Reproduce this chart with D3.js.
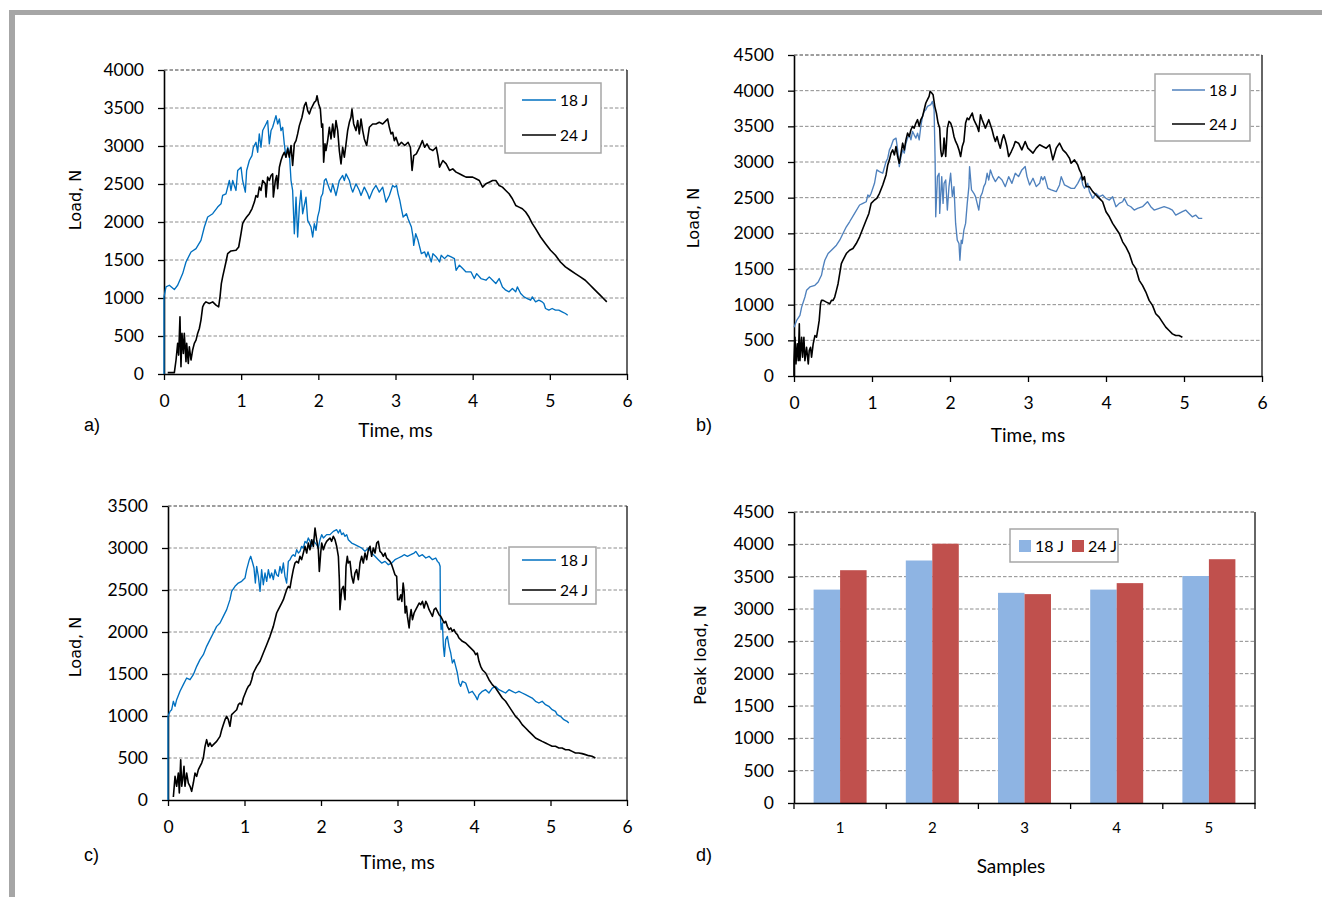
<!DOCTYPE html>
<html>
<head>
<meta charset="utf-8">
<script src="https://cdn.jsdelivr.net/npm/d3@7"></script>
<style>
  html, body { margin: 0; padding: 0; background: #fff; }
  svg { display: block; }
</style>
</head>
<body>
<svg id="fig" width="1322" height="897"></svg>
<script>
// ---- Load–time records, [time (ms), load (N)] ----
const a18 = [[0,0],[0,1015],[0.026,1146],[0.069,1168],[0.134,1111],[0.177,1168],[0.242,1321],[0.285,1474],[0.35,1606],[0.415,1649],[0.479,1759],[0.523,1934],[0.566,2065],[0.631,2109],[0.695,2196],[0.739,2240],[0.76,2349],[0.803,2371],[0.847,2546],[0.868,2415],[0.89,2546],[0.933,2415],[0.955,2678],[0.998,2721],[1.019,2546],[1.054,2393],[1.071,2678],[1.106,2809],[1.14,2874],[1.158,2984],[1.192,3049],[1.214,2918],[1.235,3159],[1.257,2984],[1.279,3203],[1.322,3290],[1.343,3334],[1.365,3028],[1.387,3203],[1.408,3246],[1.451,3399],[1.473,3290],[1.495,3356],[1.516,3203],[1.538,3246],[1.559,3028],[1.581,2853],[1.603,2984],[1.624,2918],[1.646,2546],[1.667,2415],[1.689,1846],[1.711,2328],[1.732,1803],[1.754,2196],[1.775,2415],[1.797,2109],[1.84,2328],[1.862,2021],[1.905,1934],[1.927,1803],[1.948,1978],[1.97,1890],[1.991,2065],[2.013,2153],[2.035,2328],[2.056,2371],[2.078,2546],[2.099,2568],[2.121,2503],[2.143,2437],[2.164,2393],[2.186,2503],[2.229,2349],[2.272,2546],[2.315,2612],[2.337,2546],[2.359,2634],[2.38,2590],[2.402,2546],[2.423,2459],[2.445,2393],[2.488,2503],[2.531,2415],[2.553,2349],[2.596,2459],[2.639,2371],[2.661,2306],[2.704,2415],[2.747,2481],[2.79,2393],[2.834,2459],[2.877,2262],[2.92,2349],[2.963,2481],[2.991,2459],[3.013,2481],[3.034,2371],[3.056,2284],[3.077,2174],[3.099,2065],[3.142,2109],[3.163,2043],[3.206,1934],[3.227,1803],[3.236,1693],[3.262,1846],[3.292,1759],[3.335,1584],[3.378,1606],[3.399,1540],[3.421,1606],[3.464,1474],[3.485,1584],[3.528,1540],[3.571,1474],[3.592,1562],[3.635,1518],[3.678,1562],[3.721,1540],[3.764,1518],[3.785,1365],[3.828,1431],[3.871,1387],[3.914,1343],[3.979,1343],[4.021,1256],[4.052,1321],[4.107,1256],[4.172,1234],[4.215,1278],[4.258,1234],[4.3,1190],[4.343,1256],[4.386,1146],[4.429,1103],[4.472,1081],[4.515,1124],[4.558,1081],[4.579,1146],[4.622,1059],[4.665,1015],[4.708,993],[4.751,971],[4.773,1015],[4.815,949],[4.858,971],[4.901,949],[4.923,928],[4.944,862],[4.987,840],[5.03,862],[5.073,840],[5.116,840],[5.159,818],[5.202,796],[5.232,774]];

const a24 = [[0.048,18],[0.134,18],[0.156,184],[0.177,403],[0.19,249],[0.207,753],[0.22,96],[0.233,534],[0.251,271],[0.263,534],[0.285,162],[0.294,403],[0.315,140],[0.328,359],[0.35,184],[0.371,315],[0.393,403],[0.415,446],[0.436,534],[0.458,599],[0.479,709],[0.501,884],[0.523,928],[0.544,949],[0.587,928],[0.631,949],[0.674,906],[0.708,884],[0.726,1015],[0.743,1190],[0.76,1278],[0.803,1474],[0.825,1584],[0.868,1619],[0.933,1628],[0.968,1671],[0.998,1846],[1.019,1978],[1.041,2021],[1.071,2065],[1.106,2109],[1.14,2174],[1.171,2262],[1.192,2349],[1.214,2328],[1.235,2459],[1.257,2415],[1.279,2546],[1.313,2503],[1.322,2328],[1.343,2590],[1.365,2546],[1.387,2612],[1.408,2634],[1.417,2328],[1.443,2546],[1.46,2612],[1.473,2437],[1.495,2721],[1.516,2809],[1.538,2874],[1.559,2918],[1.581,2853],[1.603,2962],[1.624,2853],[1.646,3006],[1.667,2743],[1.689,3028],[1.711,3071],[1.732,3159],[1.754,3268],[1.788,3378],[1.819,3531],[1.84,3574],[1.862,3465],[1.883,3421],[1.905,3487],[1.927,3531],[1.948,3574],[1.97,3596],[1.983,3662],[2.004,3553],[2.026,3487],[2.043,3246],[2.056,3290],[2.069,2787],[2.086,3028],[2.099,2940],[2.121,3071],[2.143,3246],[2.164,3093],[2.186,3290],[2.207,3115],[2.229,3334],[2.251,3203],[2.272,2940],[2.294,2765],[2.315,2984],[2.337,2853],[2.359,3028],[2.38,3203],[2.402,3312],[2.423,3378],[2.436,3487],[2.458,3290],[2.488,3203],[2.51,3334],[2.531,3159],[2.553,3356],[2.575,3203],[2.596,3093],[2.626,3006],[2.661,3246],[2.704,3290],[2.747,3290],[2.79,3312],[2.834,3290],[2.877,3334],[2.898,3356],[2.92,3246],[2.942,3159],[2.963,3181],[2.985,3071],[3.006,3115],[3.041,3006],[3.077,3049],[3.12,3006],[3.163,3049],[3.193,2984],[3.215,2678],[3.236,2874],[3.27,2896],[3.313,2984],[3.348,3071],[3.378,2984],[3.408,3028],[3.442,2962],[3.485,2940],[3.528,2984],[3.549,2874],[3.571,2721],[3.614,2809],[3.657,2765],[3.7,2678],[3.742,2699],[3.785,2656],[3.828,2634],[3.871,2612],[3.914,2590],[3.957,2590],[4.0,2590],[4.043,2568],[4.086,2546],[4.129,2459],[4.172,2503],[4.215,2524],[4.258,2546],[4.3,2546],[4.343,2481],[4.386,2459],[4.429,2415],[4.472,2371],[4.515,2306],[4.558,2218],[4.601,2196],[4.644,2174],[4.687,2131],[4.73,2065],[4.773,1978],[4.815,1912],[4.88,1803],[4.944,1715],[5.009,1628],[5.073,1562],[5.137,1474],[5.202,1409],[5.266,1365],[5.33,1321],[5.395,1278],[5.459,1234],[5.524,1168],[5.567,1124],[5.609,1081],[5.652,1037],[5.695,993],[5.738,949]];

const b18 = [[0,685],[0.034,779],[0.076,849],[0.098,966],[0.14,1107],[0.161,1201],[0.204,1248],[0.268,1271],[0.31,1318],[0.352,1412],[0.374,1529],[0.395,1623],[0.437,1717],[0.48,1763],[0.544,1834],[0.586,1904],[0.628,1998],[0.671,2092],[0.713,2162],[0.777,2279],[0.841,2397],[0.883,2420],[0.926,2443],[0.947,2537],[0.968,2514],[0.989,2561],[1.032,2701],[1.062,2889],[1.096,2866],[1.138,2842],[1.18,3006],[1.202,3053],[1.223,3170],[1.244,3217],[1.274,3311],[1.308,3335],[1.329,3170],[1.35,2936],[1.372,3077],[1.393,3170],[1.414,3124],[1.435,3264],[1.456,3335],[1.478,3381],[1.499,3311],[1.52,3428],[1.541,3381],[1.563,3335],[1.584,3405],[1.605,3311],[1.626,3499],[1.648,3639],[1.669,3710],[1.69,3733],[1.711,3780],[1.754,3804],[1.775,3850],[1.796,3733],[1.809,3030],[1.817,2232],[1.839,2795],[1.86,2842],[1.868,2279],[1.894,2795],[1.911,2420],[1.924,2701],[1.945,2748],[1.966,2326],[1.987,2655],[2.008,2842],[2.03,2514],[2.051,2655],[2.072,2139],[2.093,1904],[2.115,1857],[2.127,1623],[2.144,1904],[2.157,1857],[2.178,2045],[2.2,2139],[2.221,2420],[2.242,2655],[2.251,2936],[2.276,2608],[2.306,2561],[2.327,2514],[2.348,2420],[2.369,2326],[2.391,2514],[2.412,2561],[2.433,2655],[2.454,2701],[2.476,2842],[2.497,2748],[2.518,2889],[2.548,2795],[2.582,2725],[2.624,2795],[2.667,2748],[2.709,2655],[2.752,2795],[2.794,2701],[2.837,2842],[2.879,2795],[2.921,2889],[2.964,2936],[2.987,2795],[3.021,2678],[3.064,2772],[3.106,2655],[3.149,2701],[3.17,2795],[3.191,2748],[3.213,2795],[3.255,2631],[3.298,2608],[3.362,2584],[3.404,2678],[3.426,2795],[3.468,2678],[3.511,2655],[3.553,2631],[3.596,2631],[3.638,2701],[3.681,2795],[3.702,2678],[3.723,2631],[3.766,2701],[3.787,2584],[3.83,2490],[3.872,2561],[3.915,2514],[3.957,2537],[4.0,2490],[4.043,2467],[4.085,2514],[4.128,2373],[4.17,2420],[4.213,2443],[4.234,2490],[4.277,2397],[4.319,2373],[4.362,2326],[4.404,2350],[4.468,2373],[4.532,2443],[4.574,2373],[4.617,2326],[4.681,2350],[4.745,2373],[4.809,2350],[4.851,2326],[4.894,2256],[4.936,2279],[4.979,2303],[5.021,2326],[5.064,2279],[5.106,2232],[5.149,2256],[5.191,2209],[5.234,2209]];

const b24 = [[0,0],[0,216],[0.013,544],[0.025,169],[0.042,450],[0.055,216],[0.068,732],[0.076,216],[0.098,544],[0.11,263],[0.127,544],[0.14,216],[0.161,403],[0.183,169],[0.195,356],[0.212,403],[0.225,263],[0.246,450],[0.268,567],[0.289,544],[0.31,685],[0.323,779],[0.34,1013],[0.352,1060],[0.374,1060],[0.416,1036],[0.459,1013],[0.48,1060],[0.501,1060],[0.522,1107],[0.544,1201],[0.565,1294],[0.586,1435],[0.607,1576],[0.628,1623],[0.671,1717],[0.713,1763],[0.756,1787],[0.798,1857],[0.841,1951],[0.883,2068],[0.926,2186],[0.96,2279],[0.989,2420],[1.032,2467],[1.062,2490],[1.096,2561],[1.138,2678],[1.18,2819],[1.202,2959],[1.223,3030],[1.244,3124],[1.265,3170],[1.287,3100],[1.308,3217],[1.329,3077],[1.35,2983],[1.372,3124],[1.393,3264],[1.414,3170],[1.435,3311],[1.456,3405],[1.478,3358],[1.499,3452],[1.52,3499],[1.541,3475],[1.563,3546],[1.584,3593],[1.605,3499],[1.626,3593],[1.648,3639],[1.669,3733],[1.69,3827],[1.711,3874],[1.732,3921],[1.745,3991],[1.766,3968],[1.783,3944],[1.805,3780],[1.826,3686],[1.847,3546],[1.868,3475],[1.881,3170],[1.894,3077],[1.911,3124],[1.924,3335],[1.945,3077],[1.966,3475],[1.987,3569],[2.008,3546],[2.03,3475],[2.051,3358],[2.072,3288],[2.093,3241],[2.115,3170],[2.136,3077],[2.157,3217],[2.178,3288],[2.2,3546],[2.221,3616],[2.242,3593],[2.263,3639],[2.285,3686],[2.306,3593],[2.327,3546],[2.348,3499],[2.369,3428],[2.391,3663],[2.412,3593],[2.454,3475],[2.497,3593],[2.518,3522],[2.539,3452],[2.561,3358],[2.582,3288],[2.603,3358],[2.624,3264],[2.645,3194],[2.667,3311],[2.688,3381],[2.709,3311],[2.73,3217],[2.752,3077],[2.786,3147],[2.815,3217],[2.837,3288],[2.879,3264],[2.921,3170],[2.964,3288],[2.998,3194],[3.021,3170],[3.064,3124],[3.106,3194],[3.149,3241],[3.191,3217],[3.234,3194],[3.277,3241],[3.319,3030],[3.362,3194],[3.404,3264],[3.447,3170],[3.489,3124],[3.532,3053],[3.553,2983],[3.596,3030],[3.638,2959],[3.66,2889],[3.681,2842],[3.702,2748],[3.723,2795],[3.745,2655],[3.787,2655],[3.83,2584],[3.872,2537],[3.915,2490],[3.957,2443],[4.0,2303],[4.043,2232],[4.085,2139],[4.128,2068],[4.17,1998],[4.213,1881],[4.255,1810],[4.298,1717],[4.34,1576],[4.383,1505],[4.426,1341],[4.468,1271],[4.511,1177],[4.553,1060],[4.596,990],[4.638,872],[4.681,826],[4.723,755],[4.766,685],[4.809,638],[4.851,591],[4.894,567],[4.936,567],[4.979,544]];

const c18 = [[0,0],[0,996],[0.026,1055],[0.048,1075],[0.07,1175],[0.092,1115],[0.113,1194],[0.157,1294],[0.2,1373],[0.244,1452],[0.288,1432],[0.331,1492],[0.375,1591],[0.418,1671],[0.462,1730],[0.505,1829],[0.549,1909],[0.593,1988],[0.636,2067],[0.68,2107],[0.723,2186],[0.767,2266],[0.81,2385],[0.832,2484],[0.876,2544],[0.919,2583],[0.963,2603],[1.007,2643],[1.028,2742],[1.063,2861],[1.081,2901],[1.107,2821],[1.124,2762],[1.142,2583],[1.159,2782],[1.181,2663],[1.203,2484],[1.224,2742],[1.246,2563],[1.268,2702],[1.29,2603],[1.312,2742],[1.333,2643],[1.355,2702],[1.377,2623],[1.399,2742],[1.42,2682],[1.442,2663],[1.464,2782],[1.486,2702],[1.508,2821],[1.529,2663],[1.551,2583],[1.573,2841],[1.595,2861],[1.617,2901],[1.638,2920],[1.66,2901],[1.682,2980],[1.704,2940],[1.725,2960],[1.747,3020],[1.769,3000],[1.791,3079],[1.813,3059],[1.834,3119],[1.856,3079],[1.878,3020],[1.9,3099],[1.922,3059],[1.943,3040],[1.965,3000],[1.987,3099],[2.009,3159],[2.031,3119],[2.074,3159],[2.118,3159],[2.161,3198],[2.205,3218],[2.227,3178],[2.248,3218],[2.27,3159],[2.292,3178],[2.314,3139],[2.336,3159],[2.357,3099],[2.401,3059],[2.444,3040],[2.488,3020],[2.532,3000],[2.575,2960],[2.619,3000],[2.662,2940],[2.706,2901],[2.749,2861],[2.793,2821],[2.837,2841],[2.88,2801],[2.924,2821],[2.967,2861],[3.011,2881],[3.054,2901],[3.087,2920],[3.13,2901],[3.174,2920],[3.217,2940],[3.239,2960],[3.283,2901],[3.326,2920],[3.37,2881],[3.413,2901],[3.457,2861],[3.5,2881],[3.522,2841],[3.543,2821],[3.557,2782],[3.561,2186],[3.57,2028],[3.587,2107],[3.6,1829],[3.613,1710],[3.63,1909],[3.652,1948],[3.674,1829],[3.696,1750],[3.717,1631],[3.739,1671],[3.761,1591],[3.783,1512],[3.804,1393],[3.826,1353],[3.848,1413],[3.891,1393],[3.935,1274],[3.978,1294],[4.022,1234],[4.043,1194],[4.065,1254],[4.109,1294],[4.152,1313],[4.196,1274],[4.239,1333],[4.283,1353],[4.326,1313],[4.37,1294],[4.413,1274],[4.457,1313],[4.5,1294],[4.543,1274],[4.587,1294],[4.63,1274],[4.674,1254],[4.717,1234],[4.761,1214],[4.804,1175],[4.848,1155],[4.891,1175],[4.935,1135],[4.978,1115],[5.022,1075],[5.065,1055],[5.087,1016],[5.13,996],[5.174,956],[5.217,937],[5.239,917]];

const c24 = [[0.07,36],[0.092,282],[0.113,163],[0.135,321],[0.148,83],[0.166,480],[0.179,163],[0.192,242],[0.209,401],[0.222,163],[0.244,321],[0.266,202],[0.288,163],[0.309,103],[0.331,202],[0.353,321],[0.375,282],[0.397,361],[0.418,401],[0.44,440],[0.462,500],[0.484,639],[0.505,718],[0.527,639],[0.549,679],[0.571,639],[0.593,659],[0.636,698],[0.68,758],[0.702,837],[0.723,897],[0.745,956],[0.767,996],[0.789,956],[0.81,877],[0.832,1016],[0.854,1036],[0.898,1075],[0.919,1135],[0.941,1155],[0.963,1135],[0.985,1214],[1.028,1313],[1.05,1353],[1.072,1373],[1.094,1432],[1.115,1512],[1.159,1591],[1.203,1651],[1.246,1750],[1.29,1849],[1.333,1948],[1.377,2067],[1.42,2226],[1.442,2266],[1.464,2305],[1.486,2345],[1.508,2385],[1.529,2444],[1.551,2504],[1.573,2543],[1.595,2524],[1.617,2643],[1.638,2742],[1.66,2821],[1.682,2841],[1.704,2821],[1.725,2901],[1.747,2861],[1.769,2940],[1.791,3020],[1.813,2940],[1.834,3059],[1.856,2980],[1.878,3099],[1.9,3020],[1.922,3238],[1.943,3099],[1.965,2980],[1.978,2722],[1.996,2940],[2.009,3059],[2.031,2980],[2.052,3040],[2.074,3079],[2.096,3099],[2.118,3119],[2.139,3079],[2.161,3139],[2.183,3099],[2.205,3020],[2.227,2901],[2.24,2623],[2.248,2266],[2.27,2504],[2.292,2543],[2.314,2385],[2.327,2782],[2.344,2901],[2.357,2821],[2.379,2841],[2.401,2663],[2.423,2583],[2.444,2702],[2.466,2742],[2.488,2623],[2.51,2821],[2.532,2901],[2.553,2821],[2.575,2940],[2.597,2861],[2.619,2980],[2.641,3020],[2.662,2901],[2.684,3000],[2.706,2940],[2.728,3059],[2.749,3079],[2.771,2960],[2.793,2940],[2.815,2901],[2.837,2940],[2.858,2881],[2.88,2861],[2.902,2841],[2.924,2801],[2.946,2742],[2.967,2682],[2.989,2663],[3.002,2385],[3.022,2385],[3.043,2444],[3.057,2365],[3.074,2583],[3.087,2484],[3.1,2226],[3.117,2305],[3.13,2186],[3.152,2048],[3.165,2186],[3.178,2266],[3.196,2147],[3.217,2226],[3.239,2266],[3.261,2305],[3.283,2345],[3.304,2325],[3.326,2365],[3.348,2286],[3.37,2365],[3.391,2325],[3.413,2266],[3.435,2226],[3.457,2186],[3.478,2266],[3.5,2286],[3.522,2246],[3.543,2206],[3.565,2186],[3.587,2147],[3.609,2107],[3.63,2127],[3.652,2067],[3.674,2028],[3.696,2048],[3.717,2008],[3.739,2028],[3.761,1988],[3.783,1968],[3.804,1928],[3.848,1889],[3.891,1869],[3.935,1829],[3.978,1790],[4.0,1770],[4.022,1730],[4.043,1750],[4.065,1651],[4.087,1591],[4.109,1551],[4.152,1512],[4.196,1432],[4.239,1373],[4.283,1333],[4.326,1274],[4.37,1214],[4.413,1175],[4.457,1115],[4.5,1055],[4.543,996],[4.587,956],[4.63,897],[4.674,857],[4.717,817],[4.761,778],[4.804,738],[4.848,718],[4.891,698],[4.935,679],[4.978,659],[5.022,639],[5.065,639],[5.109,619],[5.152,619],[5.196,599],[5.239,599],[5.283,579],[5.326,560],[5.37,560],[5.413,552],[5.457,540],[5.5,528],[5.543,520],[5.587,500]];

// ---- Peak loads per sample ----
const sampleNames = ["1", "2", "3", "4", "5"];
const peak18 = [3300, 3750, 3250, 3300, 3510];
const peak24 = [3600, 4010, 3230, 3400, 3770];
const energyLabels = ["18 J", "24 J"];

// ---- Tick values ----
const timeTicks = [0, 1, 2, 3, 4, 5, 6];
const loadTicks4000 = [0, 500, 1000, 1500, 2000, 2500, 3000, 3500, 4000];
const loadTicks4500 = [0, 500, 1000, 1500, 2000, 2500, 3000, 3500, 4000, 4500];
const loadTicks3500 = [0, 500, 1000, 1500, 2000, 2500, 3000, 3500];

const NUM_FONT = "Lato, 'Open Sans', sans-serif";
const TITLE_FONT = "'DejaVu Sans', Verdana, sans-serif";
const LETTER_FONT = "'Liberation Sans', Arial, sans-serif";
const GRID = "#8c8c8c";

const svg = d3.select("#fig");
svg.append("rect").attr("width", 1322).attr("height", 897).attr("fill", "#fff");

// page frame: grey rule along the top and the left edge
svg.append("rect").attr("x", 9).attr("y", 10).attr("width", 1313).attr("height", 5).attr("fill", "#a6a6a6");
svg.append("rect").attr("x", 9).attr("y", 10).attr("width", 6).attr("height", 887).attr("fill", "#a6a6a6");

function frame(g, p, y, ticks) {
  // dashed horizontal gridlines, the top one darker
  g.selectAll("line.grid").data(ticks.filter(v => v > 0)).join("line")
    .attr("class", "grid")
    .attr("x1", p.left).attr("x2", p.right)
    .attr("y1", d => y(d)).attr("y2", d => y(d))
    .attr("stroke", (d, i, n) => i === n.length - 1 ? "#3c3c3c" : GRID)
    .attr("stroke-width", 1)
    .attr("stroke-dasharray", "3.5,2");
  // right border of the plot area
  g.append("line").attr("x1", p.right).attr("x2", p.right).attr("y1", p.top).attr("y2", p.bottom)
    .attr("stroke", "#333").attr("stroke-width", 1.5);
}

function styleAxis(ax, size) {
  ax.select(".domain").attr("stroke", "#000").attr("stroke-width", 1.6);
  ax.selectAll(".tick line").attr("stroke", "#000").attr("stroke-width", 1.3);
  ax.selectAll(".tick text").attr("fill", "#000").style("font-family", NUM_FONT).style("font-size", size + "px");
}

function linePanel(p) {
  const g = svg.append("g");
  const x = d3.scaleLinear().domain([0, 6]).range([p.left, p.right]);
  const y = d3.scaleLinear().domain([0, p.ymax]).range([p.bottom, p.top]);
  frame(g, p, y, p.yTicks);

  const ya = g.append("g").attr("transform", `translate(${p.left},0)`)
    .call(d3.axisLeft(y).tickValues(p.yTicks).tickSize(6).tickSizeOuter(0).tickPadding(14).tickFormat(d3.format("d")));
  styleAxis(ya, 17.5);
  const xa = g.append("g").attr("transform", `translate(0,${p.bottom})`)
    .call(d3.axisBottom(x).tickValues(timeTicks).tickSize(6).tickSizeOuter(0).tickPadding(15).tickFormat(d3.format("d")));
  styleAxis(xa, 17.5);

  const line = d3.line().x(d => x(d[0])).y(d => y(d[1]));
  g.append("path").datum(p.s18).attr("d", line).attr("fill", "none")
    .attr("stroke", p.blue).attr("stroke-width", 1.35).attr("stroke-linejoin", "round");
  g.append("path").datum(p.s24).attr("d", line).attr("fill", "none")
    .attr("stroke", "#000").attr("stroke-width", 1.6).attr("stroke-linejoin", "round");

  // axis titles
  g.append("text").attr("x", (p.left + p.right) / 2).attr("y", p.xTitleY)
    .attr("text-anchor", "middle").style("font-family", NUM_FONT).style("font-size", "19px")
    .text("Time, ms");
  g.append("text").attr("transform", `translate(${p.yTitleX},${p.yTitleY}) rotate(-90)`)
    .attr("text-anchor", "middle").style("font-family", TITLE_FONT).style("font-size", "16px")
    .text("Load, N");
  g.append("text").attr("x", p.letterX).attr("y", p.letterY)
    .style("font-family", LETTER_FONT).style("font-size", "18px").text(p.letter);

  // legend
  const L = p.legend;
  g.append("rect").attr("x", L.x).attr("y", L.y).attr("width", L.w).attr("height", L.h)
    .attr("fill", "#fff").attr("stroke", "#a6a6a6").attr("stroke-width", 1.5);
  const colors = [p.blue, "#000"];
  energyLabels.forEach((lab, i) => {
    const ly = L.rows[i];
    g.append("line").attr("x1", L.lx1).attr("x2", L.lx2).attr("y1", ly).attr("y2", ly)
      .attr("stroke", colors[i]).attr("stroke-width", 1.5);
    g.append("text").attr("x", L.lx2 + 4).attr("y", ly).attr("dy", "0.36em")
      .style("font-family", NUM_FONT).style("font-size", "15.5px").text(lab);
  });
}

linePanel({
  left: 164, right: 627, top: 70, bottom: 374, ymax: 4000, yTicks: loadTicks4000,
  s18: a18, s24: a24, blue: "#0070c0",
  xTitleY: 437, yTitleX: 81, yTitleY: 200, letter: "a)", letterX: 84, letterY: 431,
  legend: { x: 505, y: 83, w: 96, h: 70, rows: [100, 135], lx1: 522, lx2: 556 }
});
linePanel({
  left: 794, right: 1262, top: 55, bottom: 376, ymax: 4500, yTicks: loadTicks4500,
  s18: b18, s24: b24, blue: "#4f81bd",
  xTitleY: 442, yTitleX: 699, yTitleY: 218, letter: "b)", letterX: 696, letterY: 431,
  legend: { x: 1155, y: 74, w: 95, h: 67, rows: [90, 124], lx1: 1172, lx2: 1205 }
});
linePanel({
  left: 168, right: 627, top: 506, bottom: 800, ymax: 3500, yTicks: loadTicks3500,
  s18: c18, s24: c24, blue: "#0070c0",
  xTitleY: 869, yTitleX: 81, yTitleY: 647, letter: "c)", letterX: 84, letterY: 861,
  legend: { x: 509, y: 547, w: 87, h: 57, rows: [560, 590], lx1: 522, lx2: 556 }
});

// ---- d) peak load bar chart ----
(function () {
  const p = { left: 794, right: 1255, top: 512, bottom: 803 };
  const g = svg.append("g");
  const y = d3.scaleLinear().domain([0, 4500]).range([p.bottom, p.top]);
  const x0 = d3.scaleBand().domain(sampleNames).range([p.left, p.right]).paddingInner(0).paddingOuter(0);
  const x1 = d3.scaleBand().domain(energyLabels).range([0, x0.bandwidth()]).paddingInner(0).paddingOuter(0.74);
  const barColor = { "18 J": "#8eb4e3", "24 J": "#c0504d" };
  frame(g, p, y, loadTicks4500);

  const rows = sampleNames.map((s, i) => ({ s, vals: [{ k: "18 J", v: peak18[i] }, { k: "24 J", v: peak24[i] }] }));
  const grp = g.selectAll("g.sample").data(rows).join("g").attr("class", "sample")
    .attr("transform", d => `translate(${x0(d.s)},0)`);
  grp.selectAll("rect").data(d => d.vals).join("rect")
    .attr("x", d => x1(d.k)).attr("width", x1.bandwidth())
    .attr("y", d => y(d.v)).attr("height", d => y(0) - y(d.v))
    .attr("fill", d => barColor[d.k]);

  const ya = g.append("g").attr("transform", `translate(${p.left},0)`)
    .call(d3.axisLeft(y).tickValues(loadTicks4500).tickSize(6).tickSizeOuter(0).tickPadding(14).tickFormat(d3.format("d")));
  styleAxis(ya, 17.5);
  const xa = g.append("g").attr("transform", `translate(0,${p.bottom})`)
    .call(d3.axisBottom(x0).tickSize(0).tickSizeOuter(0).tickPadding(19));
  styleAxis(xa, 15);
  // tick marks sit on the category boundaries
  const bounds = sampleNames.map(s => x0(s)).concat([x0.range()[1]]);
  g.selectAll("line.btick").data(bounds).join("line").attr("class", "btick")
    .attr("x1", d => d).attr("x2", d => d).attr("y1", p.bottom).attr("y2", p.bottom + 6)
    .attr("stroke", "#000").attr("stroke-width", 1.3);

  g.append("text").attr("x", 1011).attr("y", 873).attr("text-anchor", "middle")
    .style("font-family", NUM_FONT).style("font-size", "19px").text("Samples");
  g.append("text").attr("transform", `translate(706,655) rotate(-90)`).attr("text-anchor", "middle")
    .style("font-family", TITLE_FONT).style("font-size", "16px").text("Peak load, N");
  g.append("text").attr("x", 696).attr("y", 861)
    .style("font-family", LETTER_FONT).style("font-size", "18px").text("d)");

  // legend
  g.append("rect").attr("x", 1010).attr("y", 529).attr("width", 108).attr("height", 33)
    .attr("fill", "#fff").attr("stroke", "#a6a6a6").attr("stroke-width", 1.5);
  const lx = [1019, 1072];
  energyLabels.forEach((lab, i) => {
    g.append("rect").attr("x", lx[i]).attr("y", 540).attr("width", 12).attr("height", 12).attr("fill", barColor[lab]);
    g.append("text").attr("x", lx[i] + 16).attr("y", 546).attr("dy", "0.36em")
      .style("font-family", NUM_FONT).style("font-size", "16px").text(lab);
  });
})();
</script>
</body>
</html>
